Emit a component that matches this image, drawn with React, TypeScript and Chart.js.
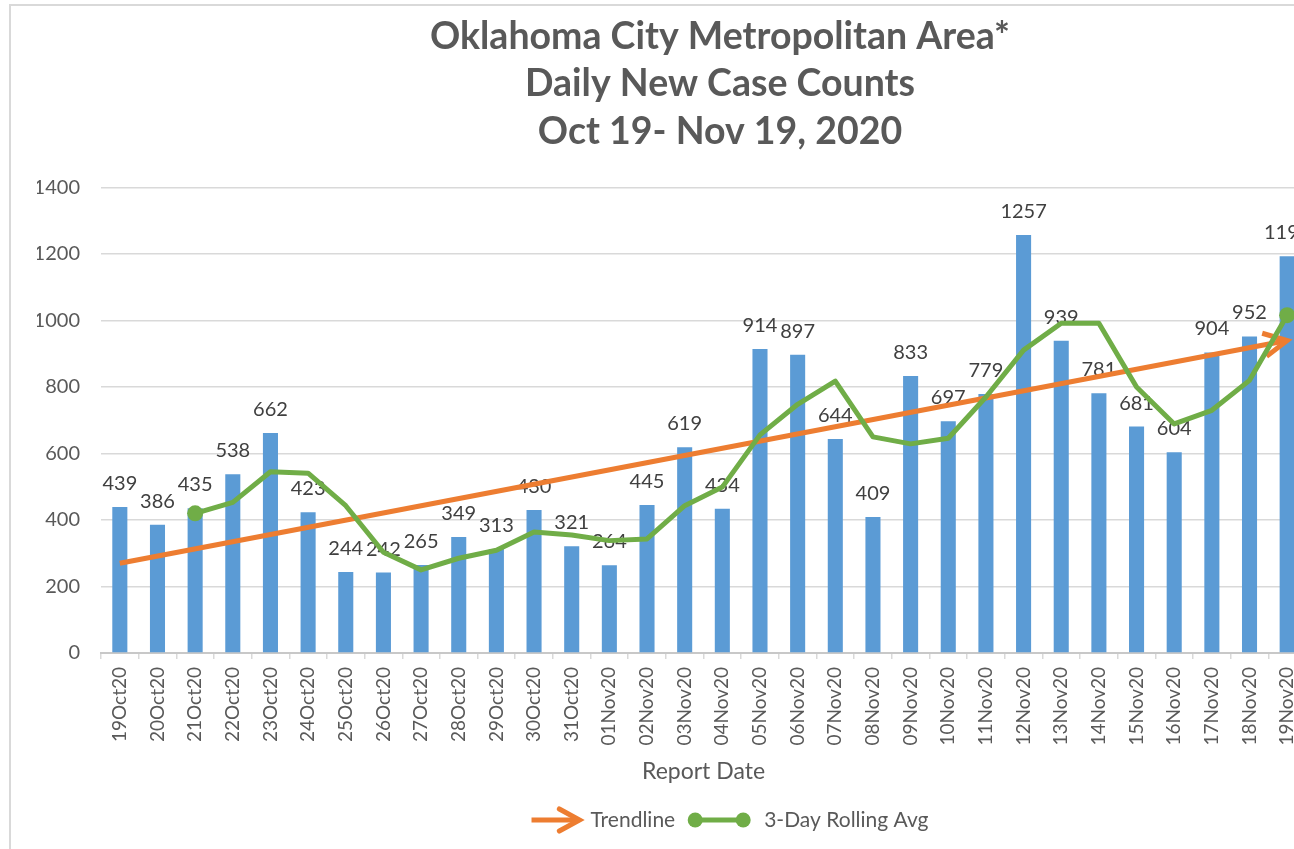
import React, { useEffect, useRef } from 'react';
import { Chart, registerables } from 'chart.js';

Chart.register(...registerables);

const FONT = 'Lato, "Open Sans", "DejaVu Sans", sans-serif';

const titleLines = ['Oklahoma City Metropolitan Area*', 'Daily New Case Counts', 'Oct 19- Nov 19, 2020'];

const dates = [
  '19Oct20', '20Oct20', '21Oct20', '22Oct20', '23Oct20', '24Oct20', '25Oct20', '26Oct20',
  '27Oct20', '28Oct20', '29Oct20', '30Oct20', '31Oct20', '01Nov20', '02Nov20', '03Nov20',
  '04Nov20', '05Nov20', '06Nov20', '07Nov20', '08Nov20', '09Nov20', '10Nov20', '11Nov20',
  '12Nov20', '13Nov20', '14Nov20', '15Nov20', '16Nov20', '17Nov20', '18Nov20', '19Nov20',
];

const newCases = [
  439, 386, 435, 538, 662, 423, 244, 242,
  265, 349, 313, 430, 321, 264, 445, 619,
  434, 914, 897, 644, 409, 833, 697, 779,
  1257, 939, 781, 681, 604, 904, 952, 1193,
];

const rollingAvg: (number | null)[] = [
  null, null, 420, 453, 545, 541, 443, 303,
  250, 285, 309, 364, 355, 338, 343, 443,
  499, 656, 748, 818, 650, 629, 646, 770,
  911, 992, 992, 800, 689, 730, 820, 1016,
];

const trendDates = ['19Oct20', '19Nov20'];
const trendValues = [270, 940];

const yMin = 0;
const yMax = 1400;
const yStep = 200;

const BLUE = '#5b9bd5';
const ORANGE = '#ed7d31';
const GREEN = '#70ad47';
const GRID = '#d9d9d9';
const TEXT = '#595959';
const LABEL = '#404040';

const CANVAS_W = 1431;
const CANVAS_H = 849;

const firstAvgIndex = rollingAvg.findIndex((v) => v !== null);
const lastAvgIndex = rollingAvg.length - 1;

function drawChevron(ctx: CanvasRenderingContext2D, tipX: number, tipY: number, angle: number, len: number, spread: number) {
  const back = angle + Math.PI;
  ctx.beginPath();
  ctx.moveTo(tipX + Math.cos(back + spread) * len, tipY + Math.sin(back + spread) * len);
  ctx.lineTo(tipX, tipY);
  ctx.lineTo(tipX + Math.cos(back - spread) * len, tipY + Math.sin(back - spread) * len);
  ctx.stroke();
}

const decorPlugin = {
  id: 'decor',
  afterDatasetDraw(chart: any, args: any) {
    const ctx = chart.ctx as CanvasRenderingContext2D;
    const ds = chart.data.datasets[args.index];
    if (ds.id === 'cases') {
      ctx.save();
      ctx.font = `20px ${FONT}`;
      ctx.fillStyle = LABEL;
      ctx.textAlign = 'center';
      ctx.textBaseline = 'alphabetic';
      args.meta.data.forEach((bar: any, i: number) => {
        ctx.fillText(String(newCases[i]), bar.x, bar.y - 17);
      });
      ctx.restore();
    }
    if (ds.id === 'trend') {
      const pts = args.meta.data;
      const p0 = pts[0];
      const p1 = pts[pts.length - 1];
      const ang = Math.atan2(p1.y - p0.y, p1.x - p0.x);
      ctx.save();
      ctx.strokeStyle = ORANGE;
      ctx.lineWidth = 5;
      ctx.lineJoin = 'miter';
      ctx.lineCap = 'butt';
      drawChevron(ctx, p1.x, p1.y, ang, 26, 0.47);
      ctx.restore();
    }
  },
  afterDraw(chart: any) {
    const ctx = chart.ctx as CanvasRenderingContext2D;
    ctx.save();
    // frame
    ctx.strokeStyle = GRID;
    ctx.lineWidth = 2;
    ctx.beginPath();
    ctx.moveTo(10, CANVAS_H);
    ctx.lineTo(10, 5);
    ctx.lineTo(CANVAS_W, 5);
    ctx.stroke();

    // legend
    const tb = chart.titleBlock;
    const center = (tb.left + tb.right) / 2 + 10;
    const cy = 820;
    ctx.font = `21px ${FONT}`;
    const t1 = 'Trendline';
    const t2 = '3-Day Rolling Avg';
    const w1 = ctx.measureText(t1).width;
    const w2 = ctx.measureText(t2).width;
    const arrowW = 50;
    const lineW = 64;
    const total = arrowW + 9 + w1 + 12 + lineW + 13 + w2;
    let x = center - total / 2;

    ctx.strokeStyle = ORANGE;
    ctx.lineWidth = 5;
    ctx.lineCap = 'butt';
    ctx.beginPath();
    ctx.moveTo(x, cy);
    ctx.lineTo(x + arrowW - 3, cy);
    ctx.stroke();
    ctx.lineJoin = 'miter';
    ctx.lineCap = 'round';
    drawChevron(ctx, x + arrowW - 2, cy, 0, 23, 0.5);
    x += arrowW + 9;
    ctx.fillStyle = TEXT;
    ctx.textAlign = 'left';
    ctx.textBaseline = 'middle';
    ctx.fillText(t1, x, cy);
    x += w1 + 12;

    ctx.strokeStyle = GREEN;
    ctx.fillStyle = GREEN;
    ctx.lineWidth = 5;
    ctx.lineCap = 'butt';
    ctx.beginPath();
    ctx.moveTo(x + 8, cy);
    ctx.lineTo(x + lineW - 8, cy);
    ctx.stroke();
    [x + 8, x + lineW - 8].forEach((cx) => {
      ctx.beginPath();
      ctx.arc(cx, cy, 7.5, 0, Math.PI * 2);
      ctx.fill();
    });
    x += lineW + 13;
    ctx.fillStyle = TEXT;
    ctx.fillText(t2, x, cy);
    ctx.restore();
  },
};

export default function App() {
  const canvasRef = useRef<HTMLCanvasElement | null>(null);

  useEffect(() => {
    const canvas = canvasRef.current;
    if (!canvas) return;
    const chart = new Chart(canvas, {
      type: 'bar',
      data: {
        labels: dates,
        datasets: [
          {
            id: 'avg',
            type: 'line',
            label: '3-Day Rolling Avg',
            data: rollingAvg,
            borderColor: GREEN,
            backgroundColor: GREEN,
            borderWidth: 5,
            tension: 0,
            pointRadius: (c: any) => (c.dataIndex === firstAvgIndex || c.dataIndex === lastAvgIndex ? 8 : 0),
            pointBorderWidth: 0,
            pointBackgroundColor: GREEN,
            borderJoinStyle: 'round',
            order: 0,
          } as any,
          {
            id: 'trend',
            type: 'line',
            label: 'Trendline',
            data: trendDates.map((d, i) => ({ x: d, y: trendValues[i] })),
            borderColor: ORANGE,
            backgroundColor: ORANGE,
            borderWidth: 5,
            pointRadius: 0,
            tension: 0,
            order: 1,
          } as any,
          {
            id: 'cases',
            type: 'bar',
            label: 'Daily New Cases',
            data: newCases,
            backgroundColor: BLUE,
            barPercentage: 0.4,
            categoryPercentage: 1.0,
            order: 2,
          } as any,
        ],
      },
      options: {
        responsive: false,
        animation: false,
        devicePixelRatio: 1,
        events: [],
        layout: { padding: { left: 37, right: 28, top: 0, bottom: 64 } },
        plugins: {
          legend: { display: false },
          tooltip: { enabled: false },
          title: {
            display: true,
            text: titleLines,
            color: TEXT,
            font: { family: FONT, size: 37.5, weight: 'bold', lineHeight: 1.267 },
            padding: { top: 13, bottom: 32 },
          },
        },
        scales: {
          x: {
            type: 'category',
            offset: true,
            grid: {
              display: true,
              drawOnChartArea: false,
              drawTicks: true,
              tickLength: 6,
              offset: true,
              color: GRID,
              lineWidth: 1.5,
            },
            border: { display: true, color: '#c8c8c8', width: 2 },
            ticks: {
              autoSkip: false,
              maxRotation: 90,
              minRotation: 90,
              padding: 8,
              color: TEXT,
              font: { family: FONT, size: 19 },
            },
            title: {
              display: true,
              text: 'Report Date',
              color: TEXT,
              font: { family: FONT, size: 23, lineHeight: 1.2 },
              padding: { top: 0, bottom: 0 },
            },
            afterFit: (scale: any) => {
              scale.height = 132;
            },
          },
          y: {
            type: 'linear',
            position: 'left',
            min: yMin,
            max: yMax,
            ticks: {
              stepSize: yStep,
              padding: 21,
              color: TEXT,
              font: { family: FONT, size: 20 },
              callback: (v: any) => String(v),
            },
            grid: {
              color: GRID,
              lineWidth: 1.5,
              drawTicks: false,
            },
            border: { display: false },
            afterFit: (scale: any) => {
              scale.width = 64;
            },
          },
          yRight: {
            type: 'linear',
            position: 'right',
            display: true,
            min: yMin,
            max: yMax,
            ticks: { display: false },
            grid: { display: false, drawTicks: false },
            border: { display: false },
            afterFit: (scale: any) => {
              scale.width = 97;
            },
          },
        },
      } as any,
      plugins: [decorPlugin],
    });
    return () => chart.destroy();
  }, []);

  return (
    <div
      style={{
        position: 'fixed',
        left: 0,
        top: 0,
        width: 1294,
        height: 849,
        overflow: 'hidden',
        background: '#ffffff',
      }}
    >
      <canvas
        ref={canvasRef}
        width={CANVAS_W}
        height={CANVAS_H}
        style={{ display: 'block', position: 'absolute', left: 0, top: 0 }}
      />
    </div>
  );
}
